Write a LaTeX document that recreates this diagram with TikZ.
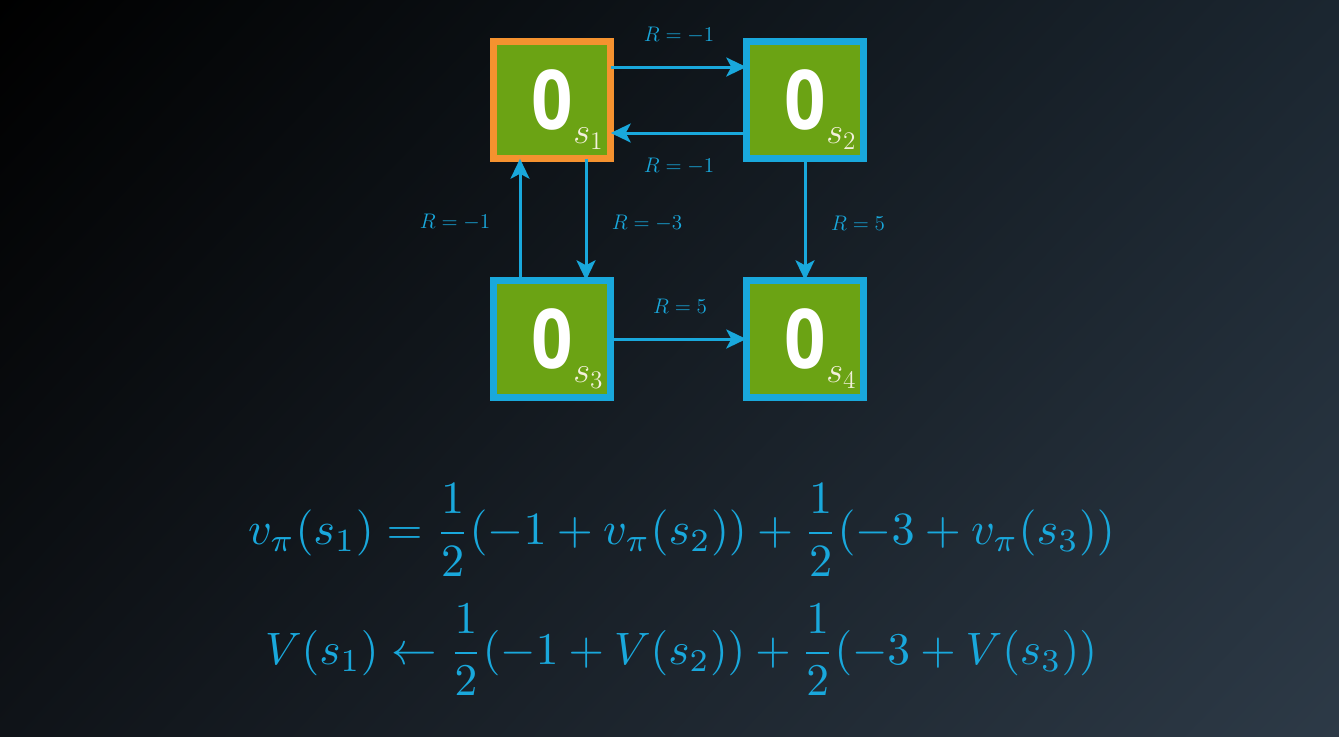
\documentclass[tikz,border=0pt]{standalone}
\usepackage{fontspec}
\usepackage{amsmath}
\usepackage{graphicx}
\usetikzlibrary{arrows.meta,calc,shadings}
\newfontfamily\zerofont{Open Sans}[UprightFont=* Bold]
\newcommand{\zeroval}{\scalebox{0.88}[1]{0}}
\definecolor{bgUR}{HTML}{1B2630}
\definecolor{bgLL}{HTML}{0F1318}
\definecolor{bgLR}{HTML}{2D3A47}
\definecolor{cblue}{HTML}{19A8DC}
\definecolor{cgreen}{HTML}{6BA314}
\definecolor{corange}{HTML}{F5922F}
\definecolor{ccream}{HTML}{F3F0DC}
\tikzset{
  statebox/.style={draw=cblue, fill=cgreen, line width=0.13cm, minimum size=2.35cm, inner sep=0pt, outer sep=0pt,
    font=\zerofont\fontsize{47}{48}\selectfont, text=white},
  startbox/.style={statebox, draw=corange},
  sublabel/.style={inner sep=0pt, text=ccream, font=\fontsize{20}{22}\selectfont},
  arr/.style={draw=cblue, line width=0.06cm, -{Stealth[length=0.4cm, width=0.38cm, inset=0.1cm]}},
  rlabel/.style={text=cblue, font=\fontsize{12}{14}\selectfont, inner sep=0pt},
  eqn/.style={text=cblue, inner sep=0pt}
}
\begin{document}
\begin{tikzpicture}[x=0.02cm, y=-0.02cm]
\useasboundingbox (0,0) rectangle (1339,737);
\shade[upper left=black, upper right=bgUR, lower left=bgLL, lower right=bgLR] (0,0) rectangle (1339,737);

\node[startbox] (s1) at (552,100) {\zeroval};
\node[statebox] (s2) at (805,100) {\zeroval};
\node[statebox] (s3) at (552,339) {\zeroval};
\node[statebox] (s4) at (805,339) {\zeroval};

\node[sublabel, anchor=south east] (l1) at ($(s1.south east)+(-7,-9)$) {$s_1$};
\node[sublabel, anchor=south east] (l2) at ($(s2.south east)+(-7,-9)$) {$s_2$};
\node[sublabel, anchor=south east] (l3) at ($(s3.south east)+(-7,-9)$) {$s_3$};
\node[sublabel, anchor=south east] (l4) at ($(s4.south east)+(-7,-9)$) {$s_4$};

\draw[arr] ($(s1.east)+(0,-33)$) -- ($(s2.west)+(0,-33)$);
\draw[arr] ($(s2.west)+(0,33)$) -- ($(s1.east)+(0,33)$);
\draw[arr] ($(s1.south)+(34,0)$) -- ($(s3.north)+(34,0)$);
\draw[arr] ($(s3.north)+(-32,0)$) -- ($(s1.south)+(-32,0)$);
\draw[arr] (s2.south) -- (s4.north);
\draw[arr] (s3.east) -- (s4.west);

\node[rlabel] (r12) at (679,35) {$R=-1$};
\node[rlabel] (r21) at (679,166) {$R=-1$};
\node[rlabel] (r31) at (455,222) {$R=-1$};
\node[rlabel] (r13) at (647,223) {$R=-3$};
\node[rlabel] (r24) at (858,223) {$R=5$};
\node[rlabel] (r34) at (680,306) {$R=5$};

\node[eqn] (eq1) at (681.5,530) {\resizebox{17.34cm}{!}{$v_\pi(s_1) = \dfrac{1}{2}(-1+v_\pi(s_2)) + \dfrac{1}{2}(-3+v_\pi(s_3))$}};
\node[eqn] (eq2) at (681,650) {\resizebox{16.64cm}{!}{$V(s_1) \leftarrow \dfrac{1}{2}(-1+V(s_2)) + \dfrac{1}{2}(-3+V(s_3))$}};
\end{tikzpicture}
\end{document}
